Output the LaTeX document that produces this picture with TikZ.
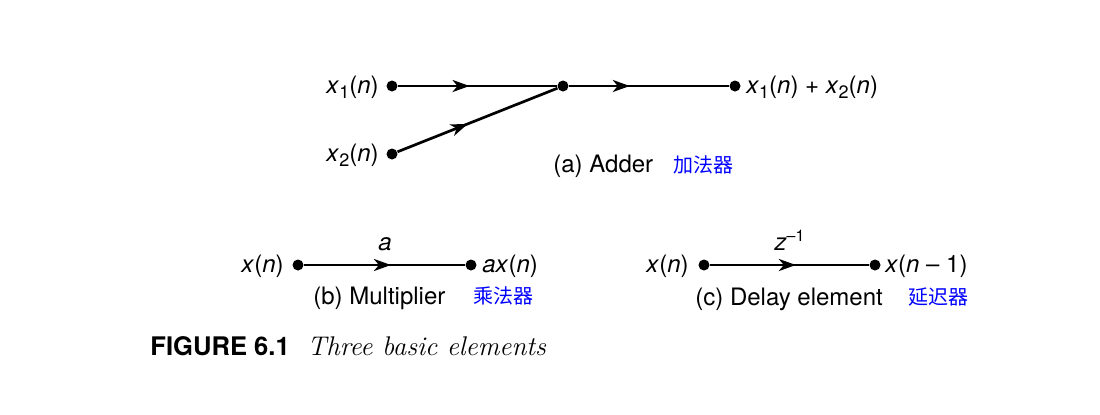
\documentclass[tikz,border=0pt]{standalone}
\usepackage{fontspec}
\setsansfont{TeX Gyre Heros}
\newfontfamily\cjk{Noto Sans CJK SC}
\usetikzlibrary{arrows.meta,decorations.markings}
\tikzset{
  dot/.style={circle,fill=black,inner sep=0pt,minimum size=5.5pt},
  lbl/.style={inner sep=0pt,font=\fontsize{12}{14}\sffamily},
  cn/.style={inner sep=0pt,text=blue,font=\fontsize{10}{12}\cjk},
  flow/.style={line width=1.35pt,postaction={decorate},
    decoration={markings,mark=at position #1 with {\arrow{Stealth[length=8.5pt,width=6pt,inset=2.5pt]}}}},
}
\newcommand{\vi}[1]{\textit{#1}}
\newcommand{\sbs}[1]{\raisebox{-0.45ex}{\fontsize{9}{10}\selectfont #1}}
\begin{document}
\begin{tikzpicture}[x=0.5pt,y=-0.5pt]
\useasboundingbox (0,0) rectangle (1100,414);
% (a) Adder
\node[dot] (a1) at (392,86) {};
\node[dot] (a2) at (392,154) {};
\node[dot] (aj) at (563,86) {};
\node[dot] (ao) at (735,86) {};
\draw[flow=0.45] (a1) -- (aj);
\draw[flow=0.44] (a2) -- (aj);
\draw[flow=0.38] (aj) -- (ao);
\node[lbl,anchor=base east] (la1) at (379,93) {\vi{x}\sbs{1}(\vi{n})};
\node[lbl,anchor=base east] (la2) at (379,161) {\vi{x}\sbs{2}(\vi{n})};
\node[lbl,anchor=base west] (lao) at (746,93) {\vi{x}\sbs{1}(\vi{n}) + \vi{x}\sbs{2}(\vi{n})};
\node[lbl,anchor=base west] (ca) at (553,172) {(a) Adder};
\node[cn,anchor=base west] (cna) at (673,172) {加法器};
% (b) Multiplier
\node[dot] (b1) at (298,265) {};
\node[dot] (b2) at (471,265) {};
\draw[flow=0.54] (b1) -- (b2);
\node[lbl,anchor=base] (lbg) at (385,250) {\vi{a}};
\node[lbl,anchor=base east] (lb1) at (284,272) {\vi{x}(\vi{n})};
\node[lbl,anchor=base west] (lb2) at (482,272) {\vi{ax}(\vi{n})};
\node[lbl,anchor=base west] (cb) at (313,304) {(b) Multiplier};
\node[cn,anchor=base west] (cnb) at (473,303) {乘法器};
% (c) Delay element
\node[dot] (c1) at (704,265) {};
\node[dot] (c2) at (875,265) {};
\draw[flow=0.54] (c1) -- (c2);
\node[lbl,anchor=base] (lcg) at (790,250) {\vi{z}\textsuperscript{--1}};
\node[lbl,anchor=base east] (lc1) at (689,272) {\vi{x}(\vi{n})};
\node[lbl,anchor=base west] (lc2) at (885,272) {\vi{x}(\vi{n} -- 1)};
\node[lbl,anchor=base west] (cc) at (695,305) {(c) Delay element};
\node[cn,anchor=base west] (cnc) at (908,304) {延迟器};
% caption
\node[inner sep=0pt,anchor=base west,font=\fontsize{12.8}{14}\sffamily\bfseries] (fig) at (150,355) {FIGURE 6.1};
\node[inner sep=0pt,anchor=base west,font=\fontsize{13.5}{15}\rmfamily\itshape] (cap) at (307,355) {Three basic elements};
\end{tikzpicture}
\end{document}
